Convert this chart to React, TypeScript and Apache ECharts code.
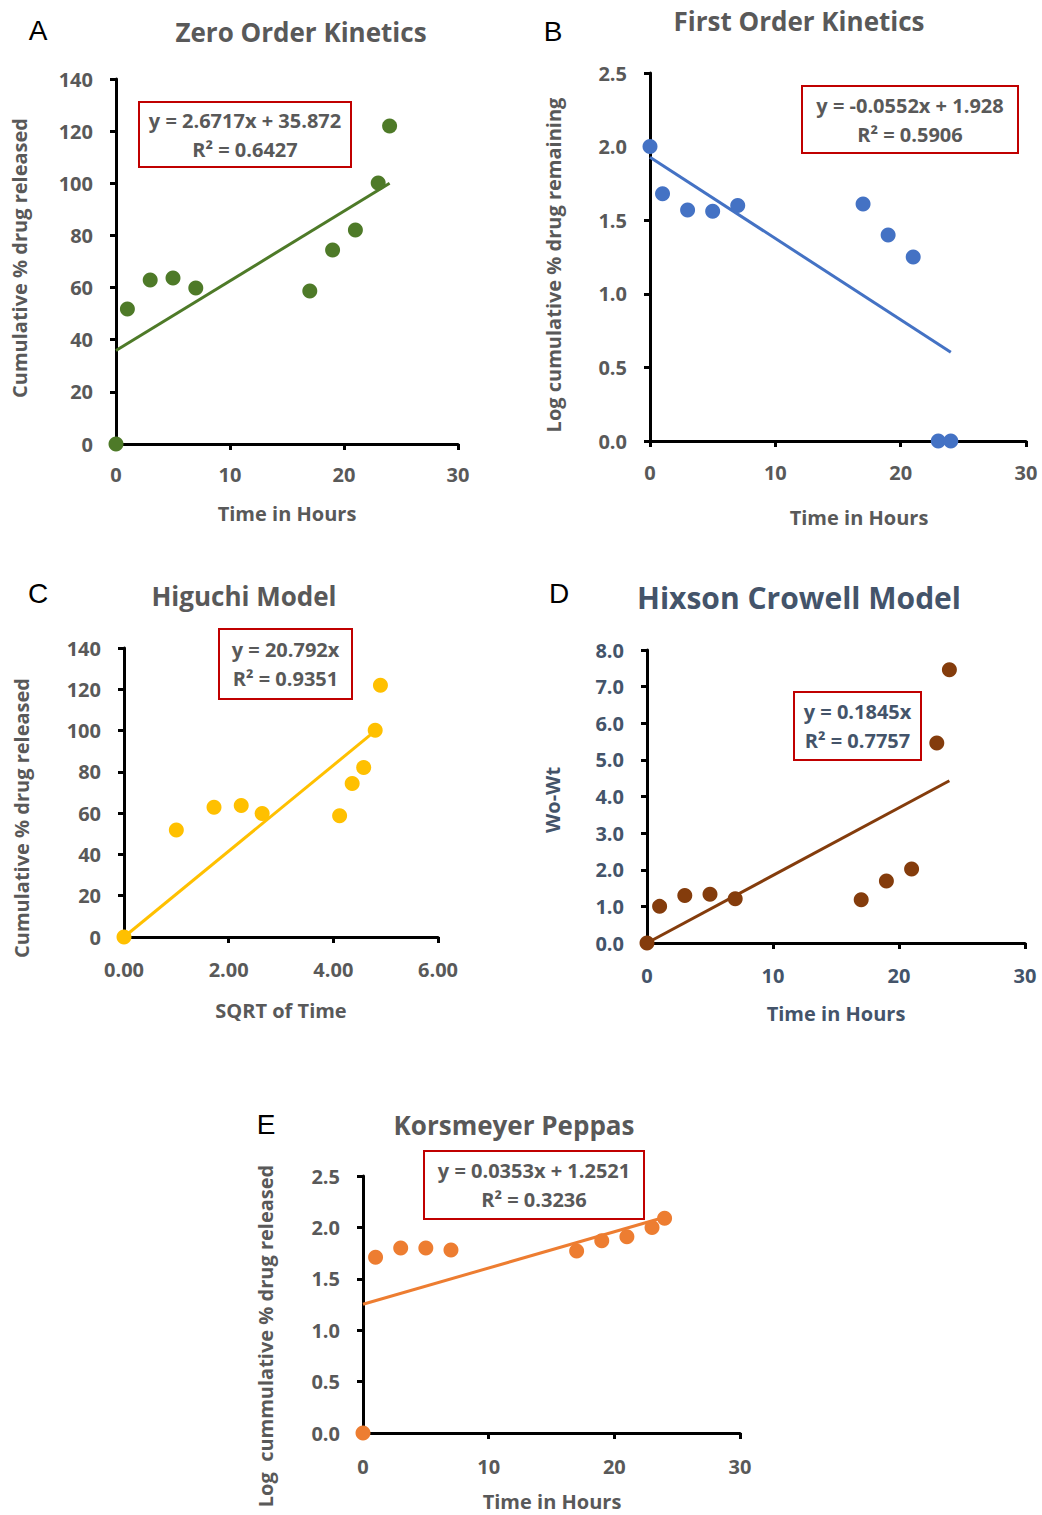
import React, { useEffect, useRef } from "react";
import * as echarts from "echarts";

// ---- data ----
const hours = [0, 1, 3, 5, 7, 17, 19, 21, 23, 24];
const sqrtHours = [0, 1.0, 1.72, 2.24, 2.64, 4.12, 4.36, 4.58, 4.8, 4.9];
const cumReleased = [0, 51.8, 62.9, 63.7, 59.8, 58.7, 74.4, 82.1, 100.1, 122.0];
const logRemaining = [2.0, 1.68, 1.57, 1.56, 1.6, 1.61, 1.4, 1.25, 0, 0];
const woWt = [0, 1.0, 1.3, 1.33, 1.21, 1.18, 1.69, 2.02, 5.46, 7.46];
const logReleased = [0, 1.71, 1.8, 1.8, 1.78, 1.77, 1.87, 1.91, 2.0, 2.09];

const zeroTrend = [[0, 35.87], [24, 100.0]];
const firstTrend = [[0, 1.928], [24, 0.603]];
const higuchiTrend = [[0, 0], [4.9, 101.9]];
const hixsonTrend = [[0, 0], [24, 4.43]];
const peppasTrend = [[0, 1.252], [24, 2.099]];

const titles = ["Zero Order Kinetics", "First Order Kinetics", "Higuchi Model", "Hixson Crowell Model", "Korsmeyer Peppas"];
const letters = ["A", "B", "C", "D", "E"];
const eqLine1 = ["y = 2.6717x + 35.872", "y = -0.0552x + 1.928", "y = 20.792x", "y = 0.1845x", "y = 0.0353x + 1.2521"];
const eqLine2 = ["R\u00b2 = 0.6427", "R\u00b2 = 0.5906", "R\u00b2 = 0.9351", "R\u00b2 = 0.7757", "R\u00b2 = 0.3236"];
const xNames = ["Time in Hours", "Time in Hours", "SQRT of Time", "Time in Hours", "Time in Hours"];
const yNames = ["Cumulative % drug released", "Log cumulative % drug remaining", "Cumulative % drug released", "Wo-Wt", "Log  cummulative % drug released"];

const FONT = "'Open Sans', 'Noto Sans', sans-serif";
const GREY = "#595959";
const SLATE = "#44546A";

export default function App() {
  const ref = useRef<HTMLDivElement>(null);
  useEffect(() => {
    if (!ref.current) return;
    const chart = echarts.init(ref.current, undefined, { renderer: "svg" });

    const panels = [
      { grid: { left: 116, top: 79, width: 342, height: 365 }, x: [0, 30, 10], y: [0, 140, 20], xd: 0, yd: 0, xm: 20,
        xs: hours, ys: cumReleased, trend: zeroTrend, color: "#4E7A28", text: GREY,
        title: [296, 33], letter: [38, 30], box: [139, 102, 212, 65], xn: [287, 513], yn: [19, 258] },
      { grid: { left: 650, top: 73, width: 376, height: 368 }, x: [0, 30, 10], y: [0, 2.5, 0.5], xd: 0, yd: 1, xm: 21,
        xs: hours, ys: logRemaining, trend: firstTrend, color: "#4472C4", text: GREY,
        title: [794, 22], letter: [553, 31], box: [802, 86, 216, 67], xn: [859, 517], yn: [553, 265] },
      { grid: { left: 124, top: 648, width: 314, height: 289 }, x: [0, 6, 2], y: [0, 140, 20], xd: 2, yd: 0, xm: 22,
        xs: sqrtHours, ys: cumReleased, trend: higuchiTrend, color: "#FFC000", text: GREY,
        title: [239, 597], letter: [38, 593], box: [219, 629, 133, 70], xn: [281, 1010], yn: [21, 818] },
      { grid: { left: 647, top: 650, width: 378, height: 293 }, x: [0, 30, 10], y: [0, 8, 1], xd: 0, yd: 1, xm: 22,
        xs: hours, ys: woWt, trend: hixsonTrend, color: "#843C0C", text: SLATE,
        title: [794, 598], letter: [559, 593], box: [794, 692, 127, 68], xn: [836, 1013], yn: [552, 800] },
      { grid: { left: 363, top: 1176, width: 377, height: 257 }, x: [0, 30, 10], y: [0, 2.5, 0.5], xd: 0, yd: 1, xm: 23,
        xs: hours, ys: logReleased, trend: peppasTrend, color: "#ED7D31", text: GREY,
        title: [509, 1126], letter: [266, 1124], box: [424, 1151, 220, 68], xn: [552, 1501], yn: [265, 1336] },
    ];

    const axisCommon = (color: string) => ({
      axisLine: { show: true, onZero: false, lineStyle: { color: "#000", width: 3 } },
      axisTick: { show: true, inside: false, length: 6, lineStyle: { color: "#000", width: 3 } },
      splitLine: { show: false },
      axisLabel: { color, fontFamily: FONT, fontWeight: "bold", fontSize: 20 },
    });

    const grid: any[] = [];
    const xAxis: any[] = [];
    const yAxis: any[] = [];
    const series: any[] = [];
    const graphic: any[] = [];
    const title: any[] = [];

    panels.forEach((p, i) => {
      grid.push({ ...p.grid, containLabel: false });
      const xc = axisCommon(p.text);
      const yc = axisCommon(p.text);
      xAxis.push({
        type: "value", gridIndex: i, min: p.x[0], max: p.x[1], interval: p.x[2], ...xc,
        axisLabel: { ...xc.axisLabel, margin: p.xm, formatter: (v: number) => v.toFixed(p.xd) },
      });
      yAxis.push({
        type: "value", gridIndex: i, min: p.y[0], max: p.y[1], interval: p.y[2], ...yc,
        axisLabel: { ...yc.axisLabel, margin: 23, formatter: (v: number) => v.toFixed(p.yd) },
      });
      series.push({
        type: "line", xAxisIndex: i, yAxisIndex: i, data: p.trend, showSymbol: false, symbol: "none",
        lineStyle: { color: p.color, width: 3 }, z: 3, silent: true,
      });
      series.push({
        type: "scatter", xAxisIndex: i, yAxisIndex: i, clip: false, symbolSize: 15,
        data: p.xs.map((x, k) => [x, p.ys[k]]), itemStyle: { color: p.color, opacity: 1 }, z: 4,
      });
      title.push({
        text: titles[i], left: p.title[0], top: p.title[1] - (i === 3 ? 21 : 19), textAlign: "center",
        textStyle: { color: p.text, fontFamily: FONT, fontWeight: "bold", fontSize: i === 3 ? 30 : 26 },
      });
      graphic.push({
        type: "text", x: p.letter[0], y: p.letter[1],
        style: { text: letters[i], fill: "#000", font: "28px 'Liberation Sans', Arial, sans-serif", align: "center", verticalAlign: "middle" },
      });
      const [bx, by, bw, bh] = p.box;
      graphic.push({
        type: "rect", shape: { x: bx, y: by, width: bw, height: bh }, z: 10,
        style: { fill: "#fff", stroke: "#C00000", lineWidth: 2 },
      });
      graphic.push({
        type: "text", x: bx + bw / 2, y: by + bh / 2, z: 11,
        style: {
          text: eqLine1[i] + "\n" + eqLine2[i], fill: p.text, align: "center", verticalAlign: "middle",
          font: `bold 20px ${FONT}`, lineHeight: 29,
        },
      });
      graphic.push({
        type: "text", x: p.xn[0], y: p.xn[1],
        style: { text: xNames[i], fill: p.text, align: "center", verticalAlign: "middle", font: `bold 20px ${FONT}` },
      });
      graphic.push({
        type: "text", x: p.yn[0], y: p.yn[1], rotation: Math.PI / 2,
        style: { text: yNames[i], fill: p.text, align: "center", verticalAlign: "middle", font: `bold 20px ${FONT}` },
      });
    });

    chart.setOption({
      animation: false,
      backgroundColor: "#fff",
      title,
      grid,
      xAxis,
      yAxis,
      series,
      graphic,
    });
    return () => chart.dispose();
  }, []);

  return <div ref={ref} style={{ position: "absolute", left: 0, top: 0, width: 1042, height: 1515 }} />;
}
